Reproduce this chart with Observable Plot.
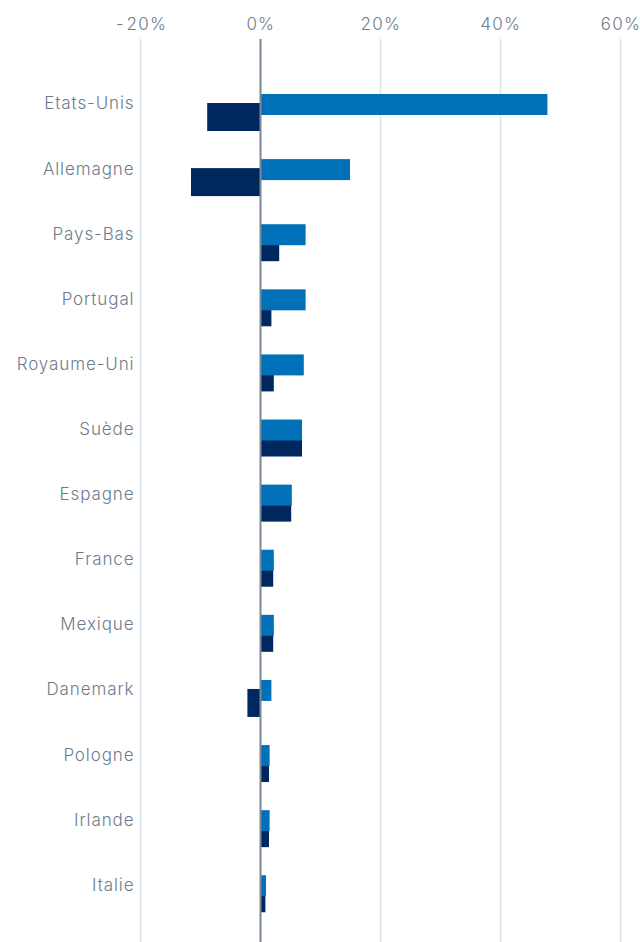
<!DOCTYPE html>
<html><head><meta charset="utf-8">
<script src="https://cdn.jsdelivr.net/npm/d3@7"></script>
<script src="https://cdn.jsdelivr.net/npm/@observablehq/plot@0.6"></script>
<style>body{margin:0;background:#fff} svg text{letter-spacing:0.9px}</style>
</head><body><div id="chart"></div>
<script>
const countries = ["Etats-Unis","Allemagne","Pays-Bas","Portugal","Royaume-Uni","Suède","Espagne","France","Mexique","Danemark","Pologne","Irlande","Italie"];
const seriesLight = [47.9, 15.0, 7.6, 7.6, 7.3, 7.0, 5.3, 2.3, 2.3, 1.9, 1.6, 1.6, 1.0];
const seriesDark = [-8.8, -11.5, 3.2, 1.9, 2.3, 7.0, 5.2, 2.2, 2.2, -2.1, 1.5, 1.5, 0.9];
const xTicks = [-20, 0, 20, 40, 60];

const data = countries.map((c, i) => ({country: c, light: seriesLight[i], dark: seriesDark[i]}));
const fmt = d => `${d}%`;

const chart = Plot.plot({
  width: 640, height: 942,
  marginTop: 39, marginBottom: 0, marginLeft: 140, marginRight: 20,
  style: {fontFamily: "Inter, 'Open Sans', sans-serif", fontSize: "17px", color: "#6e7b8d", background: "#fff", fontWeight: 300},
  x: {domain: [-20, 60]},
  y: {domain: countries, paddingInner: 0.432, paddingOuter: 0.651, align: 0.649, round: false},
  marks: [
    Plot.ruleX(xTicks.filter(d => d !== 0), {stroke: "#dce5ee", strokeWidth: 1.5}),
    Plot.barX(data, {y: "country", x: "dark", fill: "#00285f", insetTop: 9}),
    Plot.barX(data, {y: "country", x: "light", fill: "#0070b8", insetBottom: 16}),
    Plot.ruleX([0], {stroke: "#7b8898", strokeWidth: 2}),
    Plot.axisX({anchor: "top", ticks: xTicks, tickFormat: fmt, tickSize: 0, tickPadding: 10, label: null}),
    Plot.axisY({tickSize: 0, tickPadding: 6, dy: -9, label: null})
  ]
});
document.getElementById("chart").appendChild(chart);
</script>
</body></html>
